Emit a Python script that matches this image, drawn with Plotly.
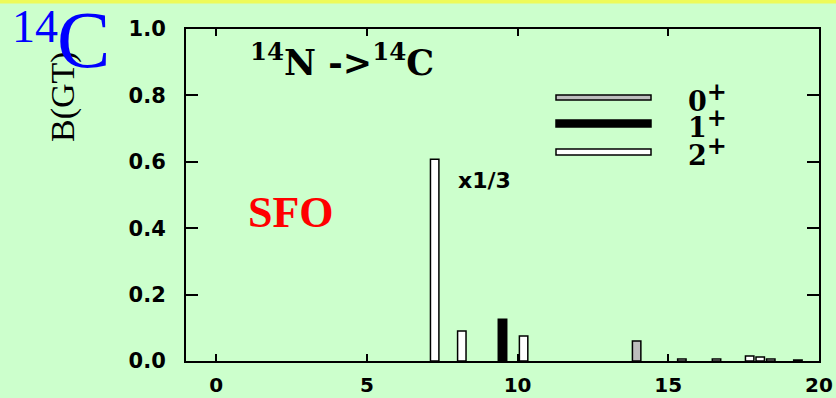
import plotly.graph_objects as go

# ---- data ----
x_2plus = [7.25, 8.15, 10.2, 15.45, 16.6, 17.7, 18.05, 18.4]
y_2plus = [0.608, 0.09, 0.075, 0.006, 0.006, 0.015, 0.012, 0.006]
x_1plus = [9.5]
y_1plus = [0.126]
x_0plus = [13.95, 19.3]
y_0plus = [0.06, 0.003]
x_ticks = [0, 5, 10, 15, 20]
y_ticks = [0.0, 0.2, 0.4, 0.6, 0.8, 1.0]
y_ticklabels = ["0.0", "0.2", "0.4", "0.6", "0.8", "1.0"]
legend_labels = ["0", "1", "2"]

W, H = 836, 398
L, R, T, B = 186, 819, 29, 361
BG = "#CCFFCC"


def px(x):
    return (x - L) / (R - L)


def py(y):
    return (B - y) / (B - T)


fig = go.Figure()
bar_line = dict(color="black", width=1.5)
fig.add_trace(go.Bar(x=x_0plus, y=y_0plus, width=0.28,
                     marker=dict(color="#BDBDBD", line=bar_line), name="0+"))
fig.add_trace(go.Bar(x=x_1plus, y=y_1plus, width=0.28,
                     marker=dict(color="black", line=bar_line), name="1+"))
fig.add_trace(go.Bar(x=x_2plus, y=y_2plus, width=0.28,
                     marker=dict(color="white", line=bar_line), name="2+"))

tickfont = dict(family="DejaVu Sans", size=21, color="black", weight="bold")
xtickfont = dict(family="DejaVu Sans", size=20, color="black", weight="bold")

fig.update_layout(
    width=W, height=H, autosize=False,
    margin=dict(l=L, r=W - R, t=T, b=H - B, pad=0),
    paper_bgcolor=BG, plot_bgcolor=BG,
    showlegend=False, barmode="overlay",
    xaxis=dict(range=[-1, 20], tickvals=x_ticks, ticks="inside", ticklen=7,
               tickwidth=2, tickcolor="black", showline=True, linecolor="black",
               linewidth=2, mirror="ticks", showgrid=False, zeroline=False,
               tickfont=xtickfont, ticklabelstandoff=5, automargin=False),
    yaxis=dict(range=[0, 1], tickvals=y_ticks, ticktext=y_ticklabels,
               ticks="inside", ticklen=12, tickwidth=2, tickcolor="black",
               showline=True, linecolor="black", linewidth=2, mirror="ticks",
               showgrid=False, zeroline=False, tickfont=tickfont,
               ticklabelstandoff=14, automargin=False),
)

shapes = []
# yellow strip at top
shapes.append(dict(type="rect", xref="paper", yref="paper", x0=px(0), x1=px(W),
                   y0=py(3.5), y1=py(-2), fillcolor="#EEFA5A", line=dict(width=0),
                   layer="below"))
# legend swatches
for (y0, y1, col) in [(95, 100, "#BDBDBD"), (120, 127, "black"), (149, 155, "white")]:
    shapes.append(dict(type="rect", xref="paper", yref="paper", x0=px(556), x1=px(651),
                       y0=py(y1), y1=py(y0), fillcolor=col,
                       line=dict(color="black", width=1.5)))
fig.update_layout(shapes=shapes)

serif = "Liberation Serif"
dserif = "DejaVu Serif"
ann = []
# legend labels
for yy, lab in zip([97, 123, 151], legend_labels):
    ann.append(dict(x=px(686), y=py(yy), xref="paper", yref="paper", xanchor="left",
                    yanchor="middle", showarrow=False,
                    text=f"<b>{lab}<sup><span style='font-size:24px'>+</span></sup></b>",
                    font=dict(family=dserif, size=27, color="black")))
ann.append(dict(x=px(342), y=py(60), xref="paper", yref="paper", xanchor="center",
                yanchor="middle", showarrow=False,
                text="<b><sup>14</sup>N -><sup>14</sup>C</b>",
                font=dict(family=dserif, size=35, color="black")))
ann.append(dict(x=px(291), y=py(212), xref="paper", yref="paper", xanchor="center",
                yanchor="middle", showarrow=False, text="<b>SFO</b>",
                font=dict(family=serif, size=44, color="#FF0000")))
ann.append(dict(x=px(456), y=py(180), xref="paper", yref="paper", xanchor="left",
                yanchor="middle", showarrow=False, text="<b>x1/3</b>",
                font=dict(family="DejaVu Sans", size=22, color="black")))
ann.append(dict(x=px(63), y=py(97), xref="paper", yref="paper", xanchor="center",
                yanchor="middle", showarrow=False, text="B(GT)", textangle=-90,
                font=dict(family=serif, size=34, color="black")))
ann.append(dict(x=px(10), y=py(27), xref="paper", yref="paper", xanchor="left",
                yanchor="middle", showarrow=False, text="14",
                font=dict(family=serif, size=46, color="#0000FF")))
ann.append(dict(x=px(55), y=py(86), xref="paper", yref="paper", xanchor="left",
                yanchor="bottom", showarrow=False, text="C",
                font=dict(family=serif, size=80, color="#0000FF")))
fig.update_layout(annotations=ann)

fig.write_html(
    "out.html",
    config={"displayModeBar": False},
    post_script="document.body.style.margin='0';document.body.style.background='#CCFFCC';",
)
